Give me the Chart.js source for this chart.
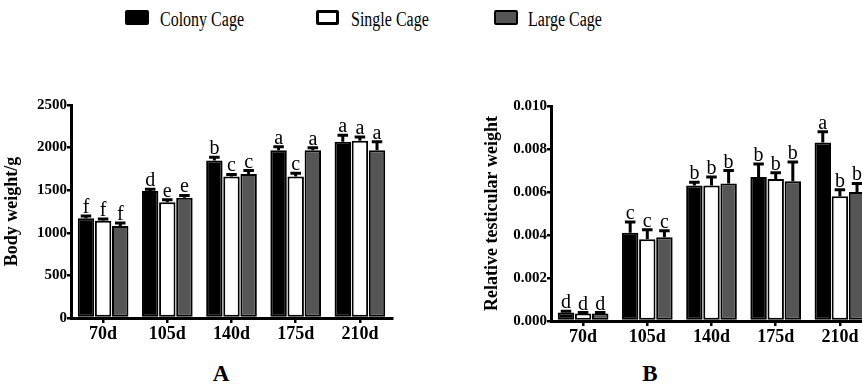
<!DOCTYPE html>
<html lang="en">
<head>
  <meta charset="UTF-8" />
  <title>Body weight and relative testicular weight</title>
  <script src="https://cdn.jsdelivr.net/npm/chart.js"></script>
  <style>
    body { margin: 0; background: #fff; }
    #page { position: relative; width: 862px; height: 384px; overflow: hidden; font-family: "Liberation Serif", "Times New Roman", serif; }
    .key { position: absolute; top: 10px; height: 15px; box-sizing: border-box; border: 2px solid #000; border-radius: 2px; }
    .key-label { position: absolute; top: 8px; font-size: 20px; line-height: 23px; transform: scaleX(0.8); transform-origin: left; white-space: nowrap; }
    .panel-tag { position: absolute; top: 362px; font-size: 23px; line-height: 23px; font-weight: bold; transform: translateX(-50%); }
    canvas { position: absolute; }
  </style>
</head>
<body>
  <div id="page">
    <div class="key" style="left:125px;width:24px;background:#000"></div>
    <div class="key-label" style="left:160px">Colony Cage</div>
    <div class="key" style="left:316px;width:23px;background:#fff;border-width:3px"></div>
    <div class="key-label" style="left:351px">Single Cage</div>
    <div class="key" style="left:494px;width:24px;background:#555"></div>
    <div class="key-label" style="left:528px">Large Cage</div>

    <canvas id="chartA" style="left:0;top:90px;width:400px;height:258px"></canvas>
    <canvas id="chartB" style="left:480px;top:91px;width:400px;height:260px"></canvas>

    <div class="panel-tag" style="left:221px">A</div>
    <div class="panel-tag" style="left:650px">B</div>
  </div>

  <script>
    const categories = ['70d', '105d', '140d', '175d', '210d'];
    const seriesNames = ['Colony Cage', 'Single Cage', 'Large Cage'];

    // A: body weight (g), mean and upper error
    const weightColony = [1170, 1490, 1850, 1970, 2070];
    const weightSingle = [1140, 1360, 1660, 1660, 2080];
    const weightLarge  = [1080, 1410, 1690, 1970, 1970];
    const weightColonyErr = [28, 22, 38, 40, 75];
    const weightSingleErr = [22, 28, 25, 40, 45];
    const weightLargeErr  = [35, 28, 40, 27, 100];
    const weightColonyTag = ['f', 'd', 'b', 'a', 'a'];
    const weightSingleTag = ['f', 'e', 'c', 'c', 'a'];
    const weightLargeTag  = ['f', 'e', 'c', 'a', 'a'];

    // B: relative testicular weight
    const testisColony = [0.0004, 0.0041, 0.0063, 0.0067, 0.0083];
    const testisSingle = [0.00035, 0.0038, 0.0063, 0.0066, 0.0058];
    const testisLarge  = [0.00035, 0.0039, 0.0064, 0.0065, 0.0060];
    const testisColonyErr = [0.00005, 0.0005, 0.00015, 0.0006, 0.0005];
    const testisSingleErr = [0.00004, 0.00045, 0.0004, 0.0003, 0.0003];
    const testisLargeErr  = [0.00004, 0.0003, 0.0006, 0.0009, 0.0004];
    const testisColonyTag = ['d', 'c', 'b', 'b', 'a'];
    const testisSingleTag = ['d', 'c', 'b', 'b', 'b'];
    const testisLargeTag  = ['d', 'c', 'b', 'b', 'b'];

    const fills = ['#000000', '#ffffff', '#555555'];

    Chart.defaults.font.family = '"Liberation Serif", "Times New Roman", serif';
    Chart.defaults.color = '#000';

    function makeDatasets(values, errors, tags) {
      return values.map((v, i) => ({
        label: seriesNames[i],
        data: v,
        errors: errors[i],
        tags: tags[i],
        backgroundColor: fills[i],
        borderColor: '#000',
        borderWidth: 2,
        borderSkipped: false,
        categoryPercentage: 0.8,
        barPercentage: 0.96
      }));
    }

    // upward error bars with caps, and the significance letters above them
    const errorBars = {
      id: 'errorBars',
      afterDatasetsDraw(chart) {
        const ctx = chart.ctx;
        const y = chart.scales.y;
        ctx.save();
        ctx.strokeStyle = '#000';
        ctx.lineWidth = 3;
        ctx.fillStyle = '#000';
        ctx.font = '20px "Liberation Serif", "Times New Roman", serif';
        ctx.textAlign = 'center';
        ctx.textBaseline = 'alphabetic';
        chart.data.datasets.forEach((ds, i) => {
          chart.getDatasetMeta(i).data.forEach((bar, j) => {
            const top = y.getPixelForValue(ds.data[j] + ds.errors[j]);
            const half = bar.width * 0.32;
            ctx.beginPath();
            ctx.moveTo(bar.x, bar.y);
            ctx.lineTo(bar.x, top);
            ctx.moveTo(bar.x - half, top);
            ctx.lineTo(bar.x + half, top);
            ctx.stroke();
            ctx.fillText(ds.tags[j], bar.x, top - 3);
          });
        });
        ctx.restore();
      }
    };

    function makeChart(id, datasets, yMax, yStep, yTitle, fmt) {
      return new Chart(document.getElementById(id), {
        type: 'bar',
        data: { labels: categories, datasets },
        plugins: [errorBars],
        options: {
          responsive: false,
          animation: false,
          layout: { padding: { top: 15, right: 8, left: 0, bottom: 0 } },
          plugins: { legend: { display: false }, tooltip: { enabled: false } },
          scales: {
            x: {
              afterFit(s) { s.height = 30; },
              grid: { offset: false, drawOnChartArea: false, color: '#000', lineWidth: 2.5, tickLength: 5 },
              border: { color: '#000', width: 3 },
              ticks: { padding: 1, font: { size: 18, weight: 'bold' } }
            },
            y: {
              min: 0, max: yMax,
              afterFit(s) { s.width = 71; },
              grid: { drawOnChartArea: false, color: '#000', lineWidth: 2.5, tickLength: 4 },
              border: { color: '#000', width: 3 },
              ticks: { stepSize: yStep, padding: 0, font: { size: 15, weight: 'bold' }, callback: fmt },
              title: { display: true, text: yTitle, font: { size: 18, weight: 'bold' }, padding: { top: 2, bottom: 2 } }
            }
          }
        }
      });
    }

    makeChart('chartA',
      makeDatasets([weightColony, weightSingle, weightLarge],
                   [weightColonyErr, weightSingleErr, weightLargeErr],
                   [weightColonyTag, weightSingleTag, weightLargeTag]),
      2500, 500, 'Body weight/g', v => v);

    makeChart('chartB',
      makeDatasets([testisColony, testisSingle, testisLarge],
                   [testisColonyErr, testisSingleErr, testisLargeErr],
                   [testisColonyTag, testisSingleTag, testisLargeTag]),
      0.01, 0.002, 'Relative testicular weight', v => v.toFixed(3));
  </script>
</body>
</html>
